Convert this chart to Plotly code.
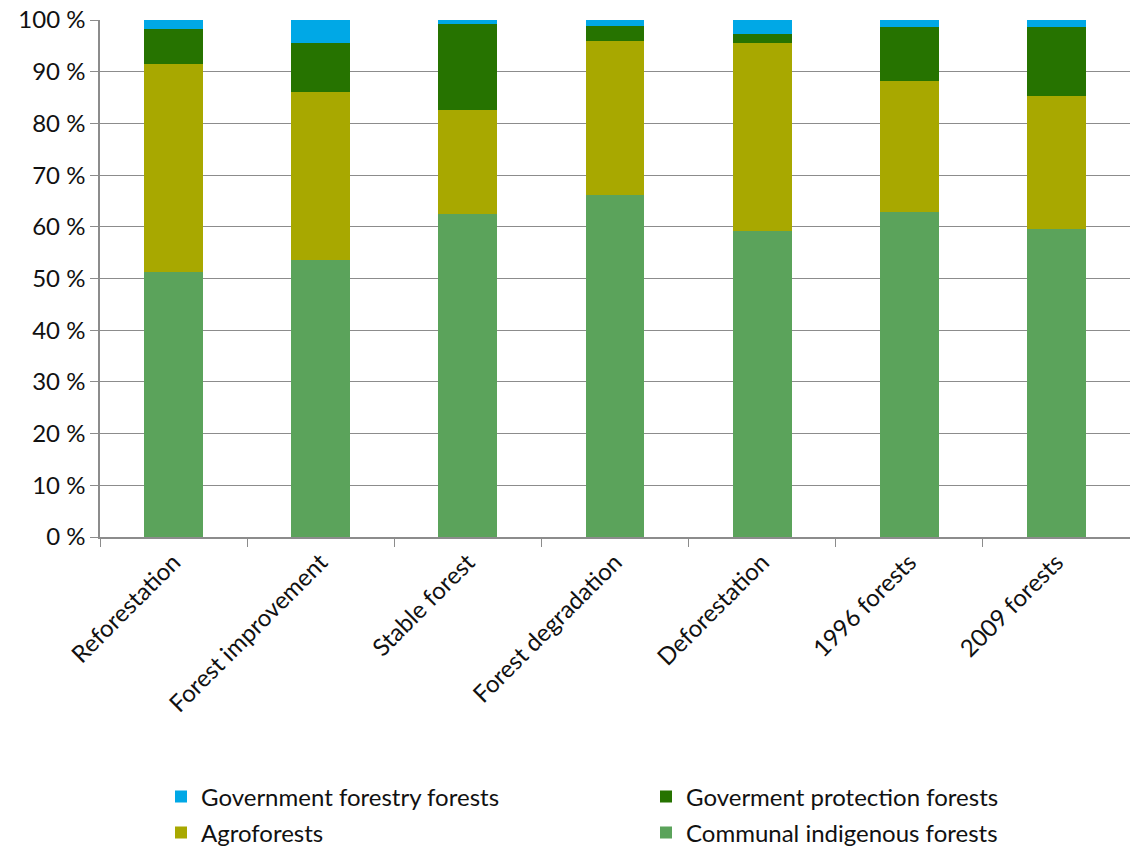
import plotly.graph_objects as go

categories = ["Reforestation", "Forest improvement", "Stable forest", "Forest degradation",
              "Deforestation", "1996 forests", "2009 forests"]
communal = [51.2, 53.5, 62.5, 66.1, 59.1, 62.9, 59.5]
agro = [40.3, 32.6, 20.1, 29.8, 36.4, 25.3, 25.8]
protection = [6.8, 9.5, 16.7, 2.9, 1.7, 10.5, 13.4]
forestry = [1.7, 4.4, 0.7, 1.2, 2.8, 1.3, 1.3]
y_ticks = list(range(0, 101, 10))
y_tick_labels = [f"{v} %" for v in y_ticks]

# (name, values, colour, legend id, legend x px, legend y px)
series = [
    ("Communal indigenous forests", communal, "#5BA35B", "legend4", 646, 833),
    ("Agroforests", agro, "#A8A800", "legend3", 161, 833),
    ("Goverment protection forests", protection, "#267300", "legend2", 646, 797),
    ("Government forestry forests", forestry, "#00A8E6", "legend", 161, 797),
]

font = dict(family="Lato, 'Open Sans', sans-serif", size=24, color="#111111")
W, H = 1130, 847

fig = go.Figure()
legends = {}
for name, vals, color, leg, lx, ly in series:
    fig.add_trace(go.Bar(x=categories, y=vals, name=name, legend=leg,
                         marker=dict(color=color, line=dict(width=0)), width=0.4))
    legends[leg] = dict(orientation="h", xref="container", yref="container",
                        x=lx / W, y=1 - ly / H, xanchor="left", yanchor="middle",
                        font=font, itemclick=False, borderwidth=0,
                        bgcolor="rgba(0,0,0,0)")

fig.update_layout(
    barmode="stack",
    width=W, height=H,
    margin=dict(l=100, r=0, t=20, b=310, autoexpand=False),
    paper_bgcolor="white", plot_bgcolor="white",
    font=font,
    showlegend=True,
    xaxis=dict(type="category", tickangle=-45, showline=True, linecolor="#8c8c8c", linewidth=1.5,
               ticks="outside", tickson="boundaries", ticklen=8, tickcolor="#8c8c8c",
               showgrid=False, tickfont=font, automargin=False),
    yaxis=dict(range=[0, 100], tickvals=y_ticks, ticktext=y_tick_labels,
               showline=True, linecolor="#8c8c8c", linewidth=1.5, ticks="outside", ticklen=8,
               tickcolor="#8c8c8c", showgrid=True, gridcolor="#8c8c8c", gridwidth=1.2,
               zeroline=False, tickfont=font, automargin=False),
    **legends,
)
fig.write_html("out.html")
